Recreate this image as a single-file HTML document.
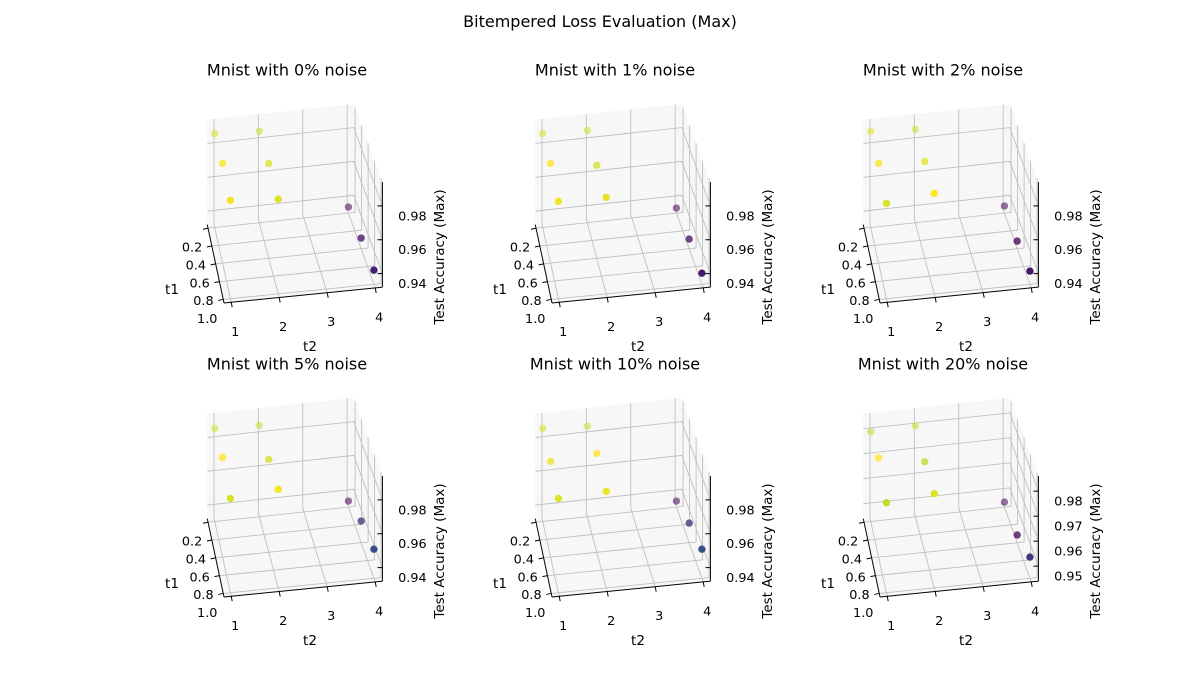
<!DOCTYPE html>
<html><head><meta charset="utf-8">
<style>
html,body{margin:0;padding:0;background:#fff;}
svg{display:block;font-family:"DejaVu Sans","Liberation Sans",sans-serif;}
</style></head>
<body>
<svg id="fig" width="1200" height="700" viewBox="0 0 1200 700">
<rect width="1200" height="700" fill="#fff"/>
<text x="600" y="27" text-anchor="middle" font-size="16" fill="#000">Bitempered Loss Evaluation (Max)</text>
</svg>
<script>
// ---- data ----
const panelTitles = ["Mnist with 0% noise","Mnist with 1% noise","Mnist with 2% noise","Mnist with 5% noise","Mnist with 10% noise","Mnist with 20% noise"];
const t1Vals = [0.2,0.6,1.0];
const t2Vals = [1,2,4];
const t1Ticks = [0.2,0.4,0.6,0.8,1.0];
const t1TickLabels = ["0.2","0.4","0.6","0.8","1.0"];
const t2Ticks = [1,2,3,4];
const t2TickLabels = ["1","2","3","4"];
// z values: order t2=1 (t1 .2,.6,1), t2=2 (...), t2=4 (...)
const acc0 = [0.9875,0.9909,0.9901, 0.9860,0.9880,0.9880, 0.9356,0.9383,0.9404];
const acc1 = [0.9876,0.9909,0.9895, 0.9865,0.9869,0.9890, 0.9350,0.9377,0.9386];
const acc2 = [0.9888,0.9909,0.9883, 0.9871,0.9892,0.9914, 0.9362,0.9365,0.9398];
const acc5 = [0.9870,0.9909,0.9877, 0.9859,0.9869,0.9902, 0.9356,0.9448,0.9492];
const acc10 = [0.9870,0.9885,0.9877, 0.9854,0.9904,0.9890, 0.9356,0.9436,0.9492];
const acc20 = [0.9799,0.9837,0.9800, 0.9804,0.9802,0.9817, 0.9460,0.9471,0.9525];
const accAll = [acc0,acc1,acc2,acc5,acc10,acc20];
const zMins = [0.932,0.932,0.932,0.932,0.932,0.944];
const zMaxs = [0.994,0.994,0.994,0.994,0.994,0.986];
const zTicksA = [0.94,0.96,0.98];
const zTicksB = [0.95,0.96,0.97,0.98];
const zTickSets = [zTicksA,zTicksA,zTicksA,zTicksA,zTicksA,zTicksB];

const NS="http://www.w3.org/2000/svg";
const fig=document.getElementById('fig');
function mk(tag,attrs,parent){const e=document.createElementNS(NS,tag);for(const k in attrs)e.setAttribute(k,attrs[k]);(parent||fig).appendChild(e);return e;}

const VIR=[[68,1,84],[72,40,120],[62,73,137],[49,104,142],[38,130,142],[31,158,137],[53,183,121],[110,206,88],[181,222,43],[253,231,37]];
function viridis(v){v=Math.max(0,Math.min(1,v));const s=v*(VIR.length-1);const i=Math.min(Math.floor(s),VIR.length-2);const f=s-i;
  const c=VIR[i].map((a,k)=>Math.round(a+(VIR[i+1][k]-a)*f));return `rgb(${c[0]},${c[1]},${c[2]})`;}

const T1MIN=0.16,T1MAX=1.04,T2MIN=0.85,T2MAX=4.15,BOXH=105;

for(let pi=0;pi<6;pi++){
  const c=pi%3,r=Math.floor(pi/3);
  const zmin=zMins[pi],zmax=zMaxs[pi],zs=BOXH/(zmax-zmin);
  const ox=224+c*328, oy=303+r*294;
  const P=(t1,t2,z)=>{const f=1-(T1MAX-t1)/0.88*0.075;
    return [ox+(t1-T1MAX)*19+(t2-T2MIN)*48*f, oy+(t1-T1MAX)*89-(t2-T2MIN)*4.8-(z-zmin)*zs];};
  const g=mk('g',{});
  
  
  const poly=(pts,name)=>{const e=mk('polygon',{points:pts.map(p=>p.join(',')).join(' '),fill:'#f2f2f2','fill-opacity':'0.6',stroke:'none'},g);
    };
  poly([P(T1MIN,T2MIN,zmin),P(T1MIN,T2MAX,zmin),P(T1MAX,T2MAX,zmin),P(T1MAX,T2MIN,zmin)],'floor-pane');
  poly([P(T1MIN,T2MIN,zmin),P(T1MIN,T2MAX,zmin),P(T1MIN,T2MAX,zmax),P(T1MIN,T2MIN,zmax)],'back-pane');
  poly([P(T1MIN,T2MAX,zmin),P(T1MAX,T2MAX,zmin),P(T1MAX,T2MAX,zmax),P(T1MIN,T2MAX,zmax)],'side-pane');
  const line=(pts,name,col,w)=>{const e=mk('polyline',{points:pts.map(p=>p.join(',')).join(' '),fill:'none',stroke:col||'#c0c0c0','stroke-width':w||0.9},g);
    return e;};
  t1Ticks.forEach(t=>line([P(t,T2MIN,zmin),P(t,T2MAX,zmin),P(t,T2MAX,zmax)],'t1-gridline'));
  t2Ticks.forEach(t=>line([P(T1MAX,t,zmin),P(T1MIN,t,zmin),P(T1MIN,t,zmax)],'t2-gridline'));
  zTickSets[pi].forEach(z=>line([P(T1MIN,T2MIN,z),P(T1MIN,T2MAX,z),P(T1MAX,T2MAX,z)],'z-gridline'));
  // axes
  line([P(T1MIN,T2MIN,zmin),P(T1MAX,T2MIN,zmin)],'t1-axis-line','#000',1);
  line([P(T1MAX,T2MIN,zmin),P(T1MAX,T2MAX,zmin)],'t2-axis-line','#000',1);
  line([P(T1MAX,T2MAX,zmin),P(T1MAX,T2MAX,zmax)],'z-axis-line','#000',1);
  const txt=(x,y,s,name,extra)=>{const e=mk('text',Object.assign({x:x,y:y,'font-size':12.8,'text-anchor':'middle','dominant-baseline':'central',fill:'#000'},extra||{}),g);
    e.textContent=s;return e;};
  t1Ticks.forEach((t,i)=>{const p=P(t,T2MIN,zmin);line([p,[p[0]-5,p[1]+1]],'t1-tick','#000',1);
    txt(p[0]-16,p[1]+20,t1TickLabels[i],'t1-tick-label');});
  t2Ticks.forEach((t,i)=>{const p=P(T1MAX,t,zmin);line([p,[p[0]+1,p[1]+5]],'t2-tick','#000',1);
    txt(p[0]+4,p[1]+30,t2TickLabels[i],'t2-tick-label');});
  zTickSets[pi].forEach(z=>{const p=P(T1MAX,T2MAX,z);line([p,[p[0]-5,p[1]]],'z-tick','#000',1);
    txt(p[0]+30,p[1]+11,z.toFixed(2),'z-tick-label');});
  txt(172+c*328,290+r*294,'t1','t1-axis-title',{'font-size':13.5});
  txt(310+c*328,347+r*294,'t2','t2-axis-title',{'font-size':13.5});
  txt(0,0,'Test Accuracy (Max)','z-axis-title',{transform:`translate(${440+c*328},${257+r*294}) rotate(-90)`,'font-size':13.5});
  txt(287+c*328,70+r*294,panelTitles[pi],'subplot-title',{'font-size':16});
  // points
  const vals=accAll[pi];const vmin=Math.min(...vals),vmax=Math.max(...vals);
  const pts=[];
  t2Vals.forEach((t2,j)=>t1Vals.forEach((t1,i)=>pts.push({t1,t2,z:vals[j*3+i]})));
  pts.sort((a,b)=>a.t1-b.t1);
  pts.forEach(d=>{const p=P(d.t1,d.t2,d.z);
    const a=0.55+0.45*(d.t1-0.2)/0.8;
    const e=mk('circle',{cx:p[0],cy:p[1],r:3.7,fill:viridis((d.z-vmin)/(vmax-vmin)),'fill-opacity':a},g);
    
    
  });
}
</script>
</body></html>
